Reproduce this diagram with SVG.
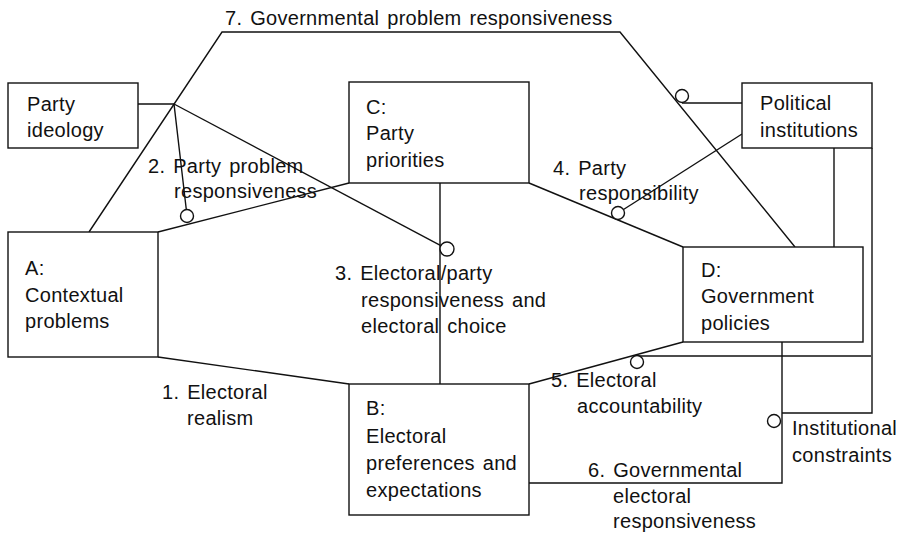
<svg xmlns="http://www.w3.org/2000/svg" width="903" height="536" viewBox="0 0 903 536">
  <style>
    .box { fill: #fff; stroke: #111; stroke-width: 1.4; }
    .ln { fill: none; stroke: #111; stroke-width: 1.4; }
    .dot { fill: #fff; stroke: #111; stroke-width: 1.4; }
    text { font-family: "Liberation Sans", Arial, sans-serif; font-size: 20px; fill: #111; letter-spacing: 0.3px; word-spacing: 2px; }
  </style>
  <rect width="903" height="536" fill="#fff"/>

  <!-- connectors between the boxes -->
  <g id="connectors">
    <!-- 1. Electoral realism: A to B -->
    <path class="ln" d="M158 357 L349 384"/>
    <!-- 2. Party problem responsiveness: A to C -->
    <path class="ln" d="M158 232 L349 183"/>
    <!-- 3. C to B -->
    <path class="ln" d="M440 183 V384"/>
    <!-- 4. Party responsibility: C to D -->
    <path class="ln" d="M529 183 L683 247"/>
    <!-- 5. Electoral accountability: B to D -->
    <path class="ln" d="M529 384 L683 342"/>
    <!-- 6. Governmental electoral responsiveness: D to B -->
    <path class="ln" d="M529 483 H782 V342"/>
    <!-- 7. Governmental problem responsiveness: A over the top to D -->
    <path class="ln" d="M89 232 L222 32 H620 L795 247"/>
    <!-- party ideology moderating links -->
    <path class="ln" d="M138 104 H174 L186.3 209.5"/>
    <path class="ln" d="M174 104 L440.8 245.7"/>
    <!-- political institutions moderating links -->
    <path class="ln" d="M742 103 H682"/>
    <path class="ln" d="M742 134 L623.5 209.5"/>
    <path class="ln" d="M834 148 V247"/>
    <path class="ln" d="M872 148 V413 H782"/>
    <path class="ln" d="M871 356 H638"/>

    <!-- moderation markers -->
    <circle class="dot" cx="187" cy="216" r="6.5"/>
    <circle class="dot" cx="447" cy="249" r="7"/>
    <circle class="dot" cx="618" cy="213" r="6.5"/>
    <circle class="dot" cx="682" cy="96" r="6.5"/>
    <circle class="dot" cx="637" cy="362" r="6.5"/>
    <circle class="dot" cx="774" cy="421" r="6.5"/>

    <!-- connector labels -->
    <text x="225" y="25">7. Governmental problem responsiveness</text>
    <text><tspan x="148" y="173">2. Party problem</tspan><tspan x="174" y="198">responsiveness</tspan></text>
    <text><tspan x="335" y="280">3. Electoral/party</tspan><tspan x="361" y="307">responsiveness and</tspan><tspan x="361" y="333">electoral choice</tspan></text>
    <text><tspan x="553" y="175">4. Party</tspan><tspan x="579" y="200">responsibility</tspan></text>
    <text><tspan x="551" y="387">5. Electoral</tspan><tspan x="577" y="413">accountability</tspan></text>
    <text><tspan x="162" y="399">1. Electoral</tspan><tspan x="187" y="425">realism</tspan></text>
    <text><tspan x="588" y="477">6. Governmental</tspan><tspan x="613" y="503">electoral</tspan><tspan x="613" y="528">responsiveness</tspan></text>
    <text><tspan x="792" y="435">Institutional</tspan><tspan x="792" y="462">constraints</tspan></text>
  </g>

  <g id="party-ideology">
    <rect class="box" x="8" y="83" width="130" height="65"/>
    <text><tspan x="27" y="111">Party</tspan><tspan x="27" y="137">ideology</tspan></text>
  </g>

  <g id="node-a">
    <rect class="box" x="8" y="232" width="150" height="125"/>
    <text><tspan x="25" y="275">A:</tspan><tspan x="25" y="302">Contextual</tspan><tspan x="25" y="328">problems</tspan></text>
  </g>

  <g id="node-c">
    <rect class="box" x="349" y="82" width="180" height="101"/>
    <text><tspan x="366" y="114">C:</tspan><tspan x="366" y="140">Party</tspan><tspan x="366" y="167">priorities</tspan></text>
  </g>

  <g id="political-institutions">
    <rect class="box" x="742" y="83" width="130" height="65"/>
    <text><tspan x="760" y="110">Political</tspan><tspan x="760" y="137">institutions</tspan></text>
  </g>

  <g id="node-d">
    <rect class="box" x="683" y="247" width="180" height="95"/>
    <text><tspan x="701" y="277">D:</tspan><tspan x="701" y="303">Government</tspan><tspan x="701" y="330">policies</tspan></text>
  </g>

  <g id="node-b">
    <rect class="box" x="349" y="384" width="180" height="131"/>
    <text><tspan x="366" y="415">B:</tspan><tspan x="366" y="443">Electoral</tspan><tspan x="366" y="470">preferences and</tspan><tspan x="366" y="497">expectations</tspan></text>
  </g>
</svg>
